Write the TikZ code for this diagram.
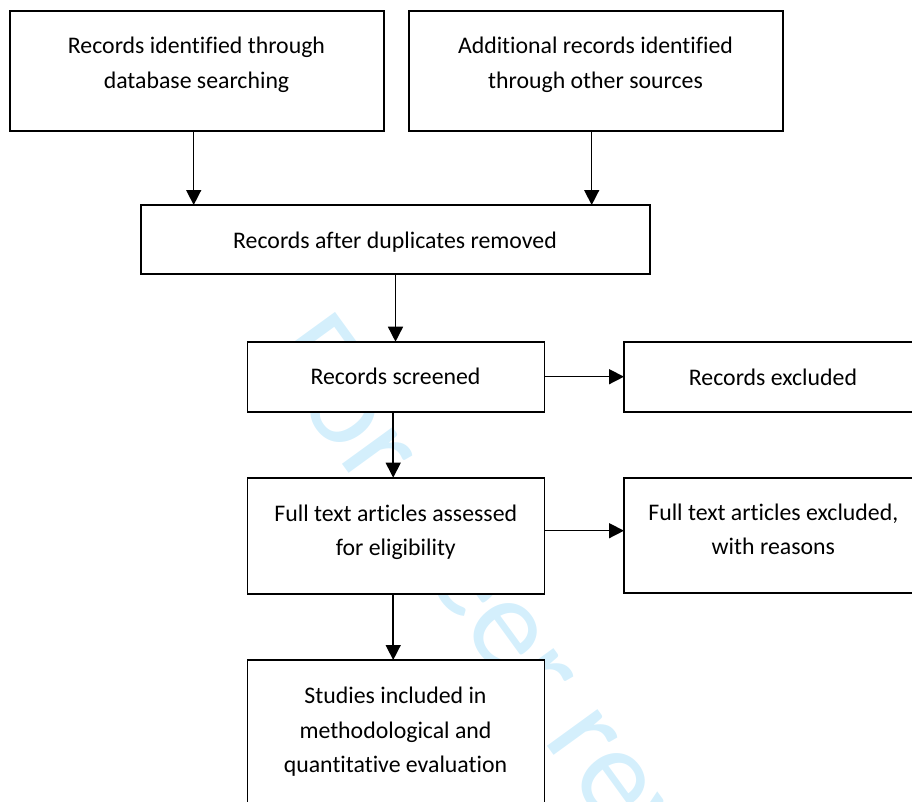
\documentclass[tikz,border=0pt]{standalone}
\usepackage{fontspec}
\setmainfont{Carlito}[Ligatures=NoCommon]
\usetikzlibrary{arrows.meta}
\definecolor{wmblue}{RGB}{212,239,252}
\begin{document}
\begin{tikzpicture}[x=1pt,y=-1pt,
  box/.style={draw, fill=white, line width=1.9pt, inner sep=0pt, outer sep=0pt},
  txt/.style={font=\fontsize{23.8}{34.5}\selectfont, align=center, inner sep=0pt, anchor=north},
  arr/.style={line width=1.5pt, -{Triangle[length=15pt,width=15pt]}}]
\useasboundingbox (0,0) rectangle (912,801);
\clip (0,0) rectangle (912,801);
% watermark
\node[font=\fontsize{130.7}{130.7}\selectfont, text=wmblue, rotate=-54, anchor=base west, inner sep=0pt] (wm) at (262.8,354) {For peer review only};
% boxes
\node[box, minimum width=374.5pt, minimum height=119.5pt] (b1) at (197,71) {};
\node[box, minimum width=374pt, minimum height=119.5pt] (b2) at (596,71) {};
\node[box, minimum width=509pt, minimum height=69pt] (b3) at (395.5,239.5) {};
\node[box, minimum width=297pt, minimum height=70pt] (b4) at (396,376.7) {};
\node[box, minimum width=298pt, minimum height=70pt] (b5) at (773,376.8) {};
\node[box, minimum width=297pt, minimum height=116.5pt] (b6) at (396,535.9) {};
\node[box, minimum width=298pt, minimum height=115.6pt] (b7) at (773,535.5) {};
\node[box, minimum width=297pt, minimum height=170pt] (b8) at (396,745) {};
% texts
\node[txt] (t1) at (196.5,29.35) {\strut Records identified through\\database searching};
\node[txt] (t2) at (595.5,29.35) {\strut Additional records identified\\through other sources};
\node[txt] (t3) at (395,223.85) {\strut Records after duplicates removed};
\node[txt] (t4) at (395.5,360.15) {\strut Records screened};
\node[txt] (t5) at (773,360.85) {\strut Records excluded};
\node[txt] (t6) at (395.8,496.85) {\strut Full text articles assessed\\for eligibility};
\node[txt] (t7) at (773.3,495.85) {\strut Full text articles excluded,\\with reasons};
\node[txt] (t8) at (395.5,679.15) {\strut Studies included in\\methodological and\\quantitative evaluation};
% connectors
\draw[arr] ([xshift=-3.3pt]b1.south) -- ([xshift=-3.3pt]b1.south |- b3.north);
\draw[arr] ([xshift=-4.3pt]b2.south) -- ([xshift=-4.3pt]b2.south |- b3.north);
\draw[arr] (b3.south) -- (b3.south |- b4.north);
\draw[arr] ([xshift=-2.8pt]b4.south) -- ([xshift=-2.8pt]b4.south |- b6.north);
\draw[arr] ([xshift=-2.8pt]b6.south) -- ([xshift=-2.8pt]b6.south |- b8.north);
\draw[arr] (b4.east) -- (b4.east -| b5.west);
\draw[arr] ([yshift=5.2pt]b6.east) -- ([yshift=5.2pt]b6.east -| b7.west);
\end{tikzpicture}
\end{document}
